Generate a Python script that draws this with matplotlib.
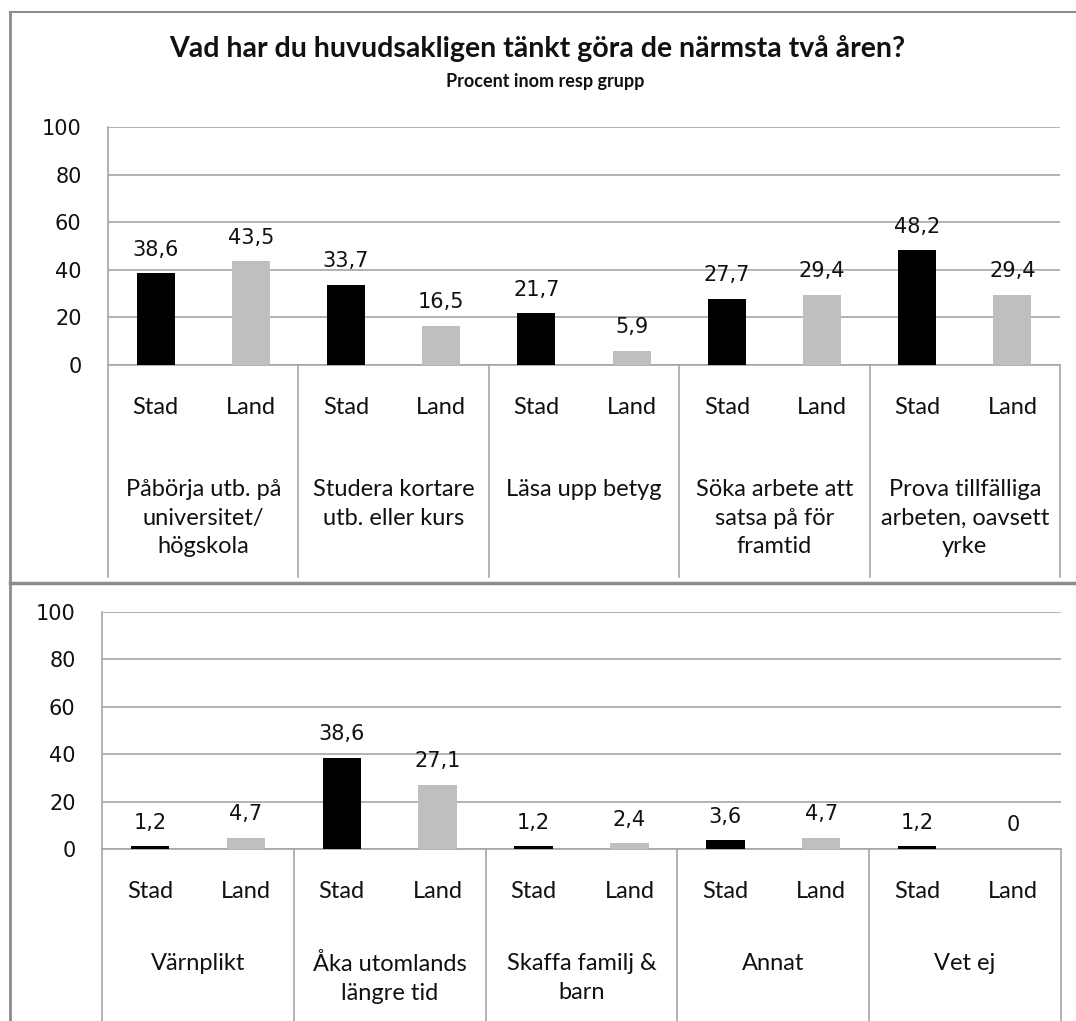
import matplotlib
matplotlib.use("Agg")
import matplotlib.pyplot as plt
from matplotlib.lines import Line2D
import matplotlib.transforms as mtransforms

# ---------------- data ----------------
title = "Vad har du huvudsakligen tänkt göra de närmsta två åren?"
subtitle = "Procent inom resp grupp"
sub_labels = ["Stad", "Land"]

top_groups = ["Påbörja utb. på\nuniversitet/\nhögskola",
              "Studera kortare\nutb. eller kurs",
              "Läsa upp betyg",
              "Söka arbete att\nsatsa på för\nframtid",
              "Prova tillfälliga\narbeten, oavsett\nyrke"]
top_stad = [38.6, 33.7, 21.7, 27.7, 48.2]
top_land = [43.5, 16.5, 5.9, 29.4, 29.4]

bot_groups = ["Värnplikt",
              "Åka utomlands\nlängre tid",
              "Skaffa familj &\nbarn",
              "Annat",
              "Vet ej"]
bot_stad = [1.2, 38.6, 1.2, 3.6, 1.2]
bot_land = [4.7, 27.1, 2.4, 4.7, 0]

yticks = [0, 20, 40, 60, 80, 100]

# ---------------- style ----------------
W, H = 1076, 1021
STAD_C = "#000000"
LAND_C = "#bfbfbf"
GRID_C = "#a6a6a6"
FRAME_C = "#8c8c8c"
TXT_FONT = ["Lato", "DejaVu Sans"]
NUM_FONT = ["DejaVu Sans"]

fig = plt.figure(figsize=(W / 100, H / 100), dpi=100)
fig.patch.set_facecolor("white")


def px_axes(left, right, top, bottom):
    return fig.add_axes([left / W, 1 - bottom / H, (right - left) / W, (bottom - top) / H])


def fmt(v):
    if v == 0:
        return "0"
    return f"{v:.1f}".replace(".", ",")


def draw_panel(ax, groups, stad, land, div_bottom, sub_y, grp_y):
    n = len(groups)
    xs_stad = [2 * i + 0.5 for i in range(n)]
    xs_land = [2 * i + 1.5 for i in range(n)]
    ax.set_xlim(0, 2 * n)
    ax.set_ylim(0, 100)
    ax.bar(xs_stad, stad, width=0.4, color=STAD_C, zorder=3)
    ax.bar(xs_land, land, width=0.4, color=LAND_C, zorder=3)
    ax.set_yticks(yticks)
    ax.set_yticklabels([str(t) for t in yticks], fontfamily=NUM_FONT, fontsize=15, color="#111111")
    ax.tick_params(axis="y", length=0, pad=19)
    ax.set_xticks([])
    ax.yaxis.grid(True, color=GRID_C, linewidth=1.2, zorder=0)
    ax.set_axisbelow(True)
    for s in ["top", "right"]:
        ax.spines[s].set_visible(False)
    ax.spines["left"].set_color(GRID_C)
    ax.spines["bottom"].set_color(GRID_C)
    ax.spines["left"].set_linewidth(1.2)
    ax.spines["bottom"].set_linewidth(1.2)

    # data labels
    for x, v in zip(xs_stad + xs_land, stad + land):
        ax.annotate(fmt(v), (x, v), xytext=(0, 17), textcoords="offset points",
                    ha="center", va="center", fontfamily=NUM_FONT, fontsize=15,
                    color="#111111", annotation_clip=False)

    trans = mtransforms.blended_transform_factory(ax.transData, ax.transAxes)
    for i in range(n + 1):
        ax.add_line(Line2D([2 * i, 2 * i], [0, div_bottom], transform=trans,
                           color=GRID_C, linewidth=1.2, clip_on=False))
    for i in range(n):
        ax.text(2 * i + 0.5, sub_y, sub_labels[0], transform=trans, ha="center", va="center",
                fontfamily=TXT_FONT, fontsize=17, color="#111111")
        ax.text(2 * i + 1.5, sub_y, sub_labels[1], transform=trans, ha="center", va="center",
                fontfamily=TXT_FONT, fontsize=17, color="#111111")
        ax.text(2 * i + 1.0, grp_y, groups[i], transform=trans, ha="center", va="top",
                fontfamily=TXT_FONT, fontsize=17, color="#111111", linespacing=1.45)


# top panel
ax1 = px_axes(108, 1060, 127, 365)
draw_panel(ax1, top_groups, top_stad, top_land,
           div_bottom=-(577 - 365) / 238, sub_y=-(407 - 365) / 238, grp_y=-(479 - 365) / 238)

# bottom panel
ax2 = px_axes(102, 1061, 612, 849)
draw_panel(ax2, bot_groups, bot_stad, bot_land,
           div_bottom=-(1021 - 849) / 237, sub_y=-(891 - 849) / 237, grp_y=-(953 - 849) / 237)

# titles
fig.text(537 / W, 1 - 48 / H, title, ha="center", va="center", fontfamily=TXT_FONT,
         fontweight="bold", fontsize=20.5, color="#111111")
fig.text(545 / W, 1 - 82 / H, subtitle, ha="center", va="center", fontfamily=TXT_FONT,
         fontweight="bold", fontsize=13, color="#111111")

# frames
fig.add_artist(Line2D([10 / W, 1], [1 - 12 / H, 1 - 12 / H], transform=fig.transFigure,
                      color=FRAME_C, linewidth=1.5))
fig.add_artist(Line2D([10 / W, 10 / W], [1 - 12 / H, 0], transform=fig.transFigure,
                      color=FRAME_C, linewidth=2))
fig.add_artist(Line2D([10 / W, 1], [1 - 583 / H, 1 - 583 / H], transform=fig.transFigure,
                      color=FRAME_C, linewidth=2.5))

fig.savefig("out.png", dpi=100, facecolor="white")
